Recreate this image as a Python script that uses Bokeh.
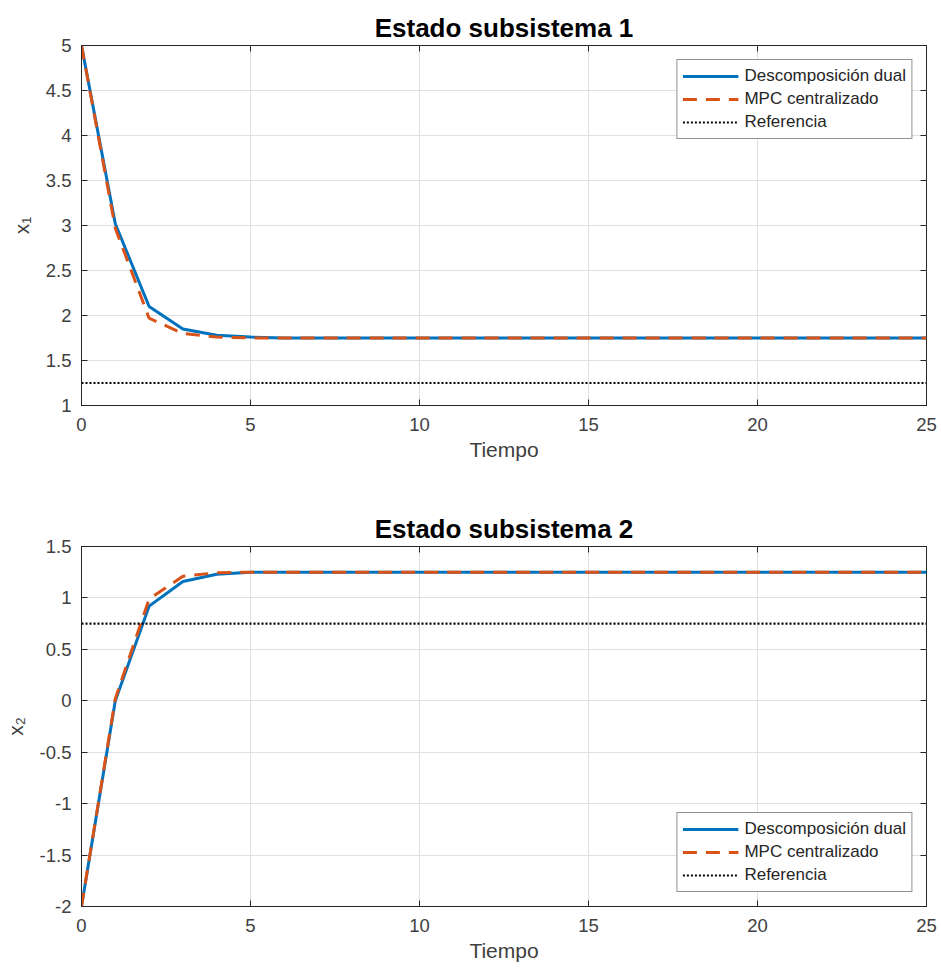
from bokeh.plotting import figure
from bokeh.layouts import column
from bokeh.models import Range1d, FixedTicker, LinearAxis, Legend, LegendItem
from bokeh.embed import file_html
from bokeh.resources import INLINE

# ---------------- data ----------------
tiempo = [0, 1, 2, 3, 4, 5, 6, 7, 8, 9, 10, 11, 12, 13, 14, 15, 16, 17, 18, 19, 20, 21, 22, 23, 24, 25]

x1_dual = [5.00, 3.02, 2.10, 1.85, 1.78, 1.76, 1.75, 1.75, 1.75, 1.75, 1.75, 1.75, 1.75,
           1.75, 1.75, 1.75, 1.75, 1.75, 1.75, 1.75, 1.75, 1.75, 1.75, 1.75, 1.75, 1.75]
x1_mpc = [5.00, 2.97, 1.97, 1.80, 1.76, 1.75, 1.75, 1.75, 1.75, 1.75, 1.75, 1.75, 1.75,
          1.75, 1.75, 1.75, 1.75, 1.75, 1.75, 1.75, 1.75, 1.75, 1.75, 1.75, 1.75, 1.75]
x1_ref = [1.25, 1.25, 1.25, 1.25, 1.25, 1.25, 1.25, 1.25, 1.25, 1.25, 1.25, 1.25, 1.25,
          1.25, 1.25, 1.25, 1.25, 1.25, 1.25, 1.25, 1.25, 1.25, 1.25, 1.25, 1.25, 1.25]

x2_dual = [-2.00, 0.00, 0.92, 1.16, 1.23, 1.25, 1.25, 1.25, 1.25, 1.25, 1.25, 1.25, 1.25,
           1.25, 1.25, 1.25, 1.25, 1.25, 1.25, 1.25, 1.25, 1.25, 1.25, 1.25, 1.25, 1.25]
x2_mpc = [-2.00, 0.02, 0.99, 1.21, 1.245, 1.25, 1.25, 1.25, 1.25, 1.25, 1.25, 1.25, 1.25,
          1.25, 1.25, 1.25, 1.25, 1.25, 1.25, 1.25, 1.25, 1.25, 1.25, 1.25, 1.25, 1.25]
x2_ref = [0.75, 0.75, 0.75, 0.75, 0.75, 0.75, 0.75, 0.75, 0.75, 0.75, 0.75, 0.75, 0.75,
          0.75, 0.75, 0.75, 0.75, 0.75, 0.75, 0.75, 0.75, 0.75, 0.75, 0.75, 0.75, 0.75]

x_ticks = [0, 5, 10, 15, 20, 25]
y1_ticks = [1, 1.5, 2, 2.5, 3, 3.5, 4, 4.5, 5]
y2_ticks = [-2, -1.5, -1, -0.5, 0, 0.5, 1, 1.5]

series_labels = ["Descomposición dual", "MPC centralizado", "Referencia"]
titles = ["Estado subsistema 1", "Estado subsistema 2"]
ylabels = ["x\u2081", "x\u2082"]
xlabel = "Tiempo"

# ---------------- style ----------------
FONT = "Liberation Sans"
AX = "#262626"
TXT = "#404040"
BLUE = "#0072BD"
ORANGE = "#D95319"


def fmt(v):
    return ("%g" % v)


def make_panel(ydual, ympc, yref, yticks, yrange, title, ylabel, top_border, bottom_border, legend_loc):
    p = figure(width=941, height=485, x_range=Range1d(0, 25), y_range=Range1d(*yrange),
               output_backend="svg", toolbar_location=None,
               min_border_left=81, min_border_right=15,
               min_border_top=top_border, min_border_bottom=bottom_border)
    p.background_fill_color = "white"
    p.border_fill_color = "white"
    p.outline_line_color = AX
    p.outline_line_width = 1

    p.title.text = title
    p.title.text_font = FONT
    p.title.text_font_size = "26px"
    p.title.text_font_style = "bold"
    p.title.text_color = "black"
    p.title.align = "center"
    p.title.standoff = 5

    p.xaxis.ticker = FixedTicker(ticks=x_ticks)
    p.yaxis.ticker = FixedTicker(ticks=yticks)
    p.yaxis.major_label_overrides = {t: fmt(t) for t in yticks}
    p.xaxis.major_label_overrides = {t: fmt(t) for t in x_ticks}

    for ax in (p.xaxis[0], p.yaxis[0]):
        ax.axis_line_color = AX
        ax.major_tick_line_color = AX
        ax.major_tick_in = 6
        ax.major_tick_out = 0
        ax.minor_tick_line_color = None
        ax.major_label_text_font = FONT
        ax.major_label_text_font_size = "18.5px"
        ax.major_label_text_color = TXT
        ax.axis_label_text_font = FONT
        ax.axis_label_text_font_size = "21px"
        ax.axis_label_text_font_style = "normal"
        ax.axis_label_text_color = TXT
    p.xaxis.axis_label = xlabel
    p.yaxis.axis_label = ylabel
    p.xaxis.major_label_standoff = 12
    p.xaxis.axis_label_standoff = 4
    p.yaxis.major_label_standoff = 10
    p.yaxis.axis_label_standoff = 10

    # box ticks on top and right
    top = LinearAxis(ticker=FixedTicker(ticks=x_ticks))
    right = LinearAxis(ticker=FixedTicker(ticks=yticks))
    for ax in (top, right):
        ax.axis_line_color = None
        ax.major_tick_line_color = AX
        ax.major_tick_in = 6
        ax.major_tick_out = 0
        ax.minor_tick_line_color = None
        ax.major_label_text_font_size = "1px"
        ax.major_label_text_alpha = 0
        ax.major_label_standoff = 0
    p.add_layout(top, "above")
    p.add_layout(right, "right")

    p.xgrid.ticker = FixedTicker(ticks=x_ticks)
    p.ygrid.ticker = FixedTicker(ticks=yticks)
    p.xgrid.grid_line_color = "#dfdfdf"
    p.ygrid.grid_line_color = "#dfdfdf"

    r1 = p.line(tiempo, ydual, line_color=BLUE, line_width=3)
    r2 = p.line(tiempo, ympc, line_color=ORANGE, line_width=3, line_dash="14 9")
    r3 = p.line(tiempo, yref, line_color="black", line_width=2.2, line_dash="2 2")

    legend = Legend(items=[LegendItem(label=series_labels[0], renderers=[r1]),
                           LegendItem(label=series_labels[1], renderers=[r2]),
                           LegendItem(label=series_labels[2], renderers=[r3])],
                    location=legend_loc)
    legend.margin = 14
    legend.border_line_color = AX
    legend.border_line_width = 1
    legend.background_fill_color = "white"
    legend.background_fill_alpha = 1
    legend.label_text_font = FONT
    legend.label_text_font_size = "17px"
    legend.label_text_color = "#262626"
    legend.glyph_width = 56
    legend.glyph_height = 22
    legend.label_height = 22
    legend.label_standoff = 6
    legend.padding = 5
    legend.spacing = 1
    p.add_layout(legend)
    return p


p1 = make_panel(x1_dual, x1_mpc, x1_ref, y1_ticks, (1, 5), titles[0], ylabels[0], 45, 80, "top_right")
p2 = make_panel(x2_dual, x2_mpc, x2_ref, y2_ticks, (-2, 1.5), titles[1], ylabels[1], 61, 64, "bottom_right")

layout = column(p1, p2, spacing=0)
open("out.html", "w").write(file_html(layout, INLINE))
